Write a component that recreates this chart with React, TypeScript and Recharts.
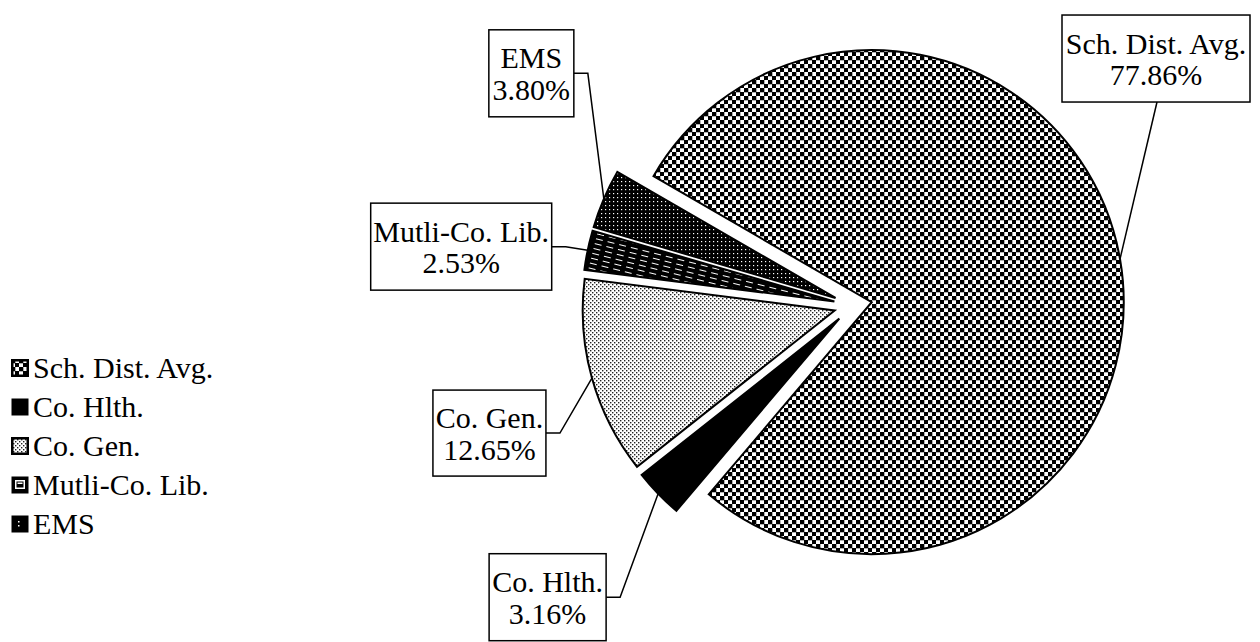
import React from 'react';
import { PieChart, Pie, Cell, Legend } from 'recharts';

// ---- data ----
const categories = ['Sch. Dist. Avg.', 'Co. Hlth.', 'Co. Gen.', 'Mutli-Co. Lib.', 'EMS'];
const shares = [77.86, 3.16, 12.65, 2.53, 3.8];
const patternIds = ['pSch', 'pHlth', 'pGen', 'pMutli', 'pEMS'];

const data = categories.map((name, i) => ({ name, value: shares[i] }));

// ---- layout / style ----
const W = 1260;
const H = 642;
const START = 150;
const END = START - 360;
const CENTER_X = 853;
const CENTER_Y = 305.4;
const RADIUS = 252;
const EXPLODE = 19;
const RAD = Math.PI / 180;
const FONT = "'Liberation Serif', Tinos, 'Times New Roman', 'DejaVu Serif', serif";
const FONT_SIZE = 30;

const total = shares.reduce((a, b) => a + b, 0);
const midAngles = shares.map((v, i) => {
  const before = shares.slice(0, i).reduce((a, b) => a + b, 0);
  return START - ((before + v / 2) / total) * 360;
});

// label box placement relative to the slice's anchor point on the arc
const labelLayout = [
  { dx: 36, dy: -200.5, w: 188, h: 87, attach: 'bottom' },
  { dx: -110.5, dy: 103.5, w: 117, h: 87, attach: 'right' },
  { dx: -102.5, dy: 55, w: 113, h: 86, attach: 'right' },
  { dx: -126.5, dy: -3.5, w: 181, h: 87, attach: 'right' },
  { dx: -72.5, dy: -125.5, w: 85, h: 87, attach: 'right' },
];

const makeLabel = (target: number) => (props: any) => {
  if (props.index !== target) return null;
  const { cx, cy, midAngle, outerRadius, name, value } = props;
  const a = -midAngle * RAD;
  const ax = cx + outerRadius * Math.cos(a);
  const ay = cy + outerRadius * Math.sin(a);
  const L = labelLayout[target];
  const bx = ax + L.dx;
  const by = ay + L.dy;
  const left = bx - L.w / 2;
  const top = by - L.h / 2;
  let leader: string;
  if (L.attach === 'bottom') {
    leader = `M${ax},${ay} L${bx + 1},${top + L.h}`;
  } else {
    const right = left + L.w;
    leader = `M${ax},${ay} L${right + 14},${by} L${right},${by}`;
  }
  return (
    <g>
      <path d={leader} fill="none" stroke="#000" strokeWidth={1.5} />
      <rect x={left} y={top} width={L.w} height={L.h} fill="#fff" stroke="#000" strokeWidth={1.5} />
      <text x={bx} y={by - 5} textAnchor="middle" style={{ fontFamily: FONT, fontSize: FONT_SIZE }} fill="#000">
        {name}
      </text>
      <text x={bx} y={by + 26.5} textAnchor="middle" style={{ fontFamily: FONT, fontSize: FONT_SIZE }} fill="#000">
        {Number(value).toFixed(2) + '%'}
      </text>
    </g>
  );
};

const LegendIcon = ({ index }: { index: number }) => {
  const s = 17;
  if (index === 1) {
    return <rect x={0.5} y={0.5} width={s} height={s} fill="#000" />;
  }
  if (index === 3) {
    return (
      <g>
        <rect x={0.5} y={0.5} width={s} height={s} fill="#000" />
        <rect x={4} y={4} width={10} height={9} fill="#fff" />
        <rect x={5.5} y={5.5} width={7} height={6} fill="#000" />
        <rect x={6.5} y={6.5} width={5} height={1.5} fill="#fff" />
      </g>
    );
  }
  if (index === 4) {
    return (
      <g>
        <rect x={0.5} y={0.5} width={s} height={s} fill="#000" />
        <rect x={7} y={6} width={1.5} height={1.5} fill="#fff" />
        <rect x={7} y={10} width={1.5} height={1.5} fill="#fff" />
      </g>
    );
  }
  return (
    <rect x={1.25} y={1.25} width={s - 1.5} height={s - 1.5} fill={`url(#${patternIds[index]})`} stroke="#000" strokeWidth={2.5} />
  );
};

const renderLegend = () => (
  <div style={{ fontFamily: FONT, fontSize: FONT_SIZE, lineHeight: '39px', color: '#000' }}>
    {categories.map((c, i) => (
      <div key={c} style={{ display: 'flex', alignItems: 'center', height: 39, whiteSpace: 'nowrap' }}>
        <svg width={18} height={18} style={{ marginRight: 4, flex: 'none' }}>
          <LegendIcon index={i} />
        </svg>
        <span>{c}</span>
      </div>
    ))}
  </div>
);

export default function App() {
  return (
    <div style={{ position: 'absolute', left: 0, top: 0, width: W, height: H, background: '#fff', fontFamily: FONT }}>
      <PieChart width={W} height={H} margin={{ top: 0, right: 0, bottom: 0, left: 0 }}>
        <defs>
          <pattern id="pSch" width={8} height={8} patternUnits="userSpaceOnUse">
            <rect width={8} height={8} fill="#fff" />
            <rect x={0} y={0} width={4.3} height={4.3} fill="#000" />
            <rect x={4} y={4} width={4.3} height={4.3} fill="#000" />
          </pattern>
          <pattern id="pHlth" width={4} height={4} patternUnits="userSpaceOnUse">
            <rect width={4} height={4} fill="#000" />
          </pattern>
          <pattern id="pGen" width={4} height={4} patternUnits="userSpaceOnUse">
            <rect width={4} height={4} fill="#fff" />
            <rect x={0} y={0} width={1.4} height={1.4} fill="#222" />
            <rect x={2} y={2} width={1.4} height={1.4} fill="#222" />
          </pattern>
          <pattern id="pMutli" width={12} height={5} patternUnits="userSpaceOnUse" patternTransform="rotate(14)">
            <rect width={12} height={5} fill="#000" />
            <rect x={0} y={2} width={7} height={1} fill="#fff" />
          </pattern>
          <pattern id="pEMS" width={4} height={4} patternUnits="userSpaceOnUse">
            <rect width={4} height={4} fill="#000" />
            <rect x={1} y={1} width={1.2} height={1.2} fill="#fff" />
          </pattern>
        </defs>
        {categories.map((_, k) => (
          <Pie
            key={k}
            data={data}
            dataKey="value"
            nameKey="name"
            cx={CENTER_X + EXPLODE * Math.cos(midAngles[k] * RAD)}
            cy={CENTER_Y - EXPLODE * Math.sin(midAngles[k] * RAD)}
            outerRadius={RADIUS}
            startAngle={START}
            endAngle={END}
            isAnimationActive={false}
            label={makeLabel(k)}
            labelLine={false}
            legendType="none"
          >
            {data.map((d, i) => (
              <Cell
                key={d.name}
                fill={i === k ? `url(#${patternIds[i]})` : 'none'}
                stroke={i === k ? '#000' : 'none'}
                strokeWidth={2}
              />
            ))}
          </Pie>
        ))}
        <Legend
          layout="vertical"
          align="center"
          verticalAlign="middle"
          content={renderLegend}
          wrapperStyle={{ position: 'absolute', left: 11, top: 348, width: 260 }}
        />
      </PieChart>
    </div>
  );
}
